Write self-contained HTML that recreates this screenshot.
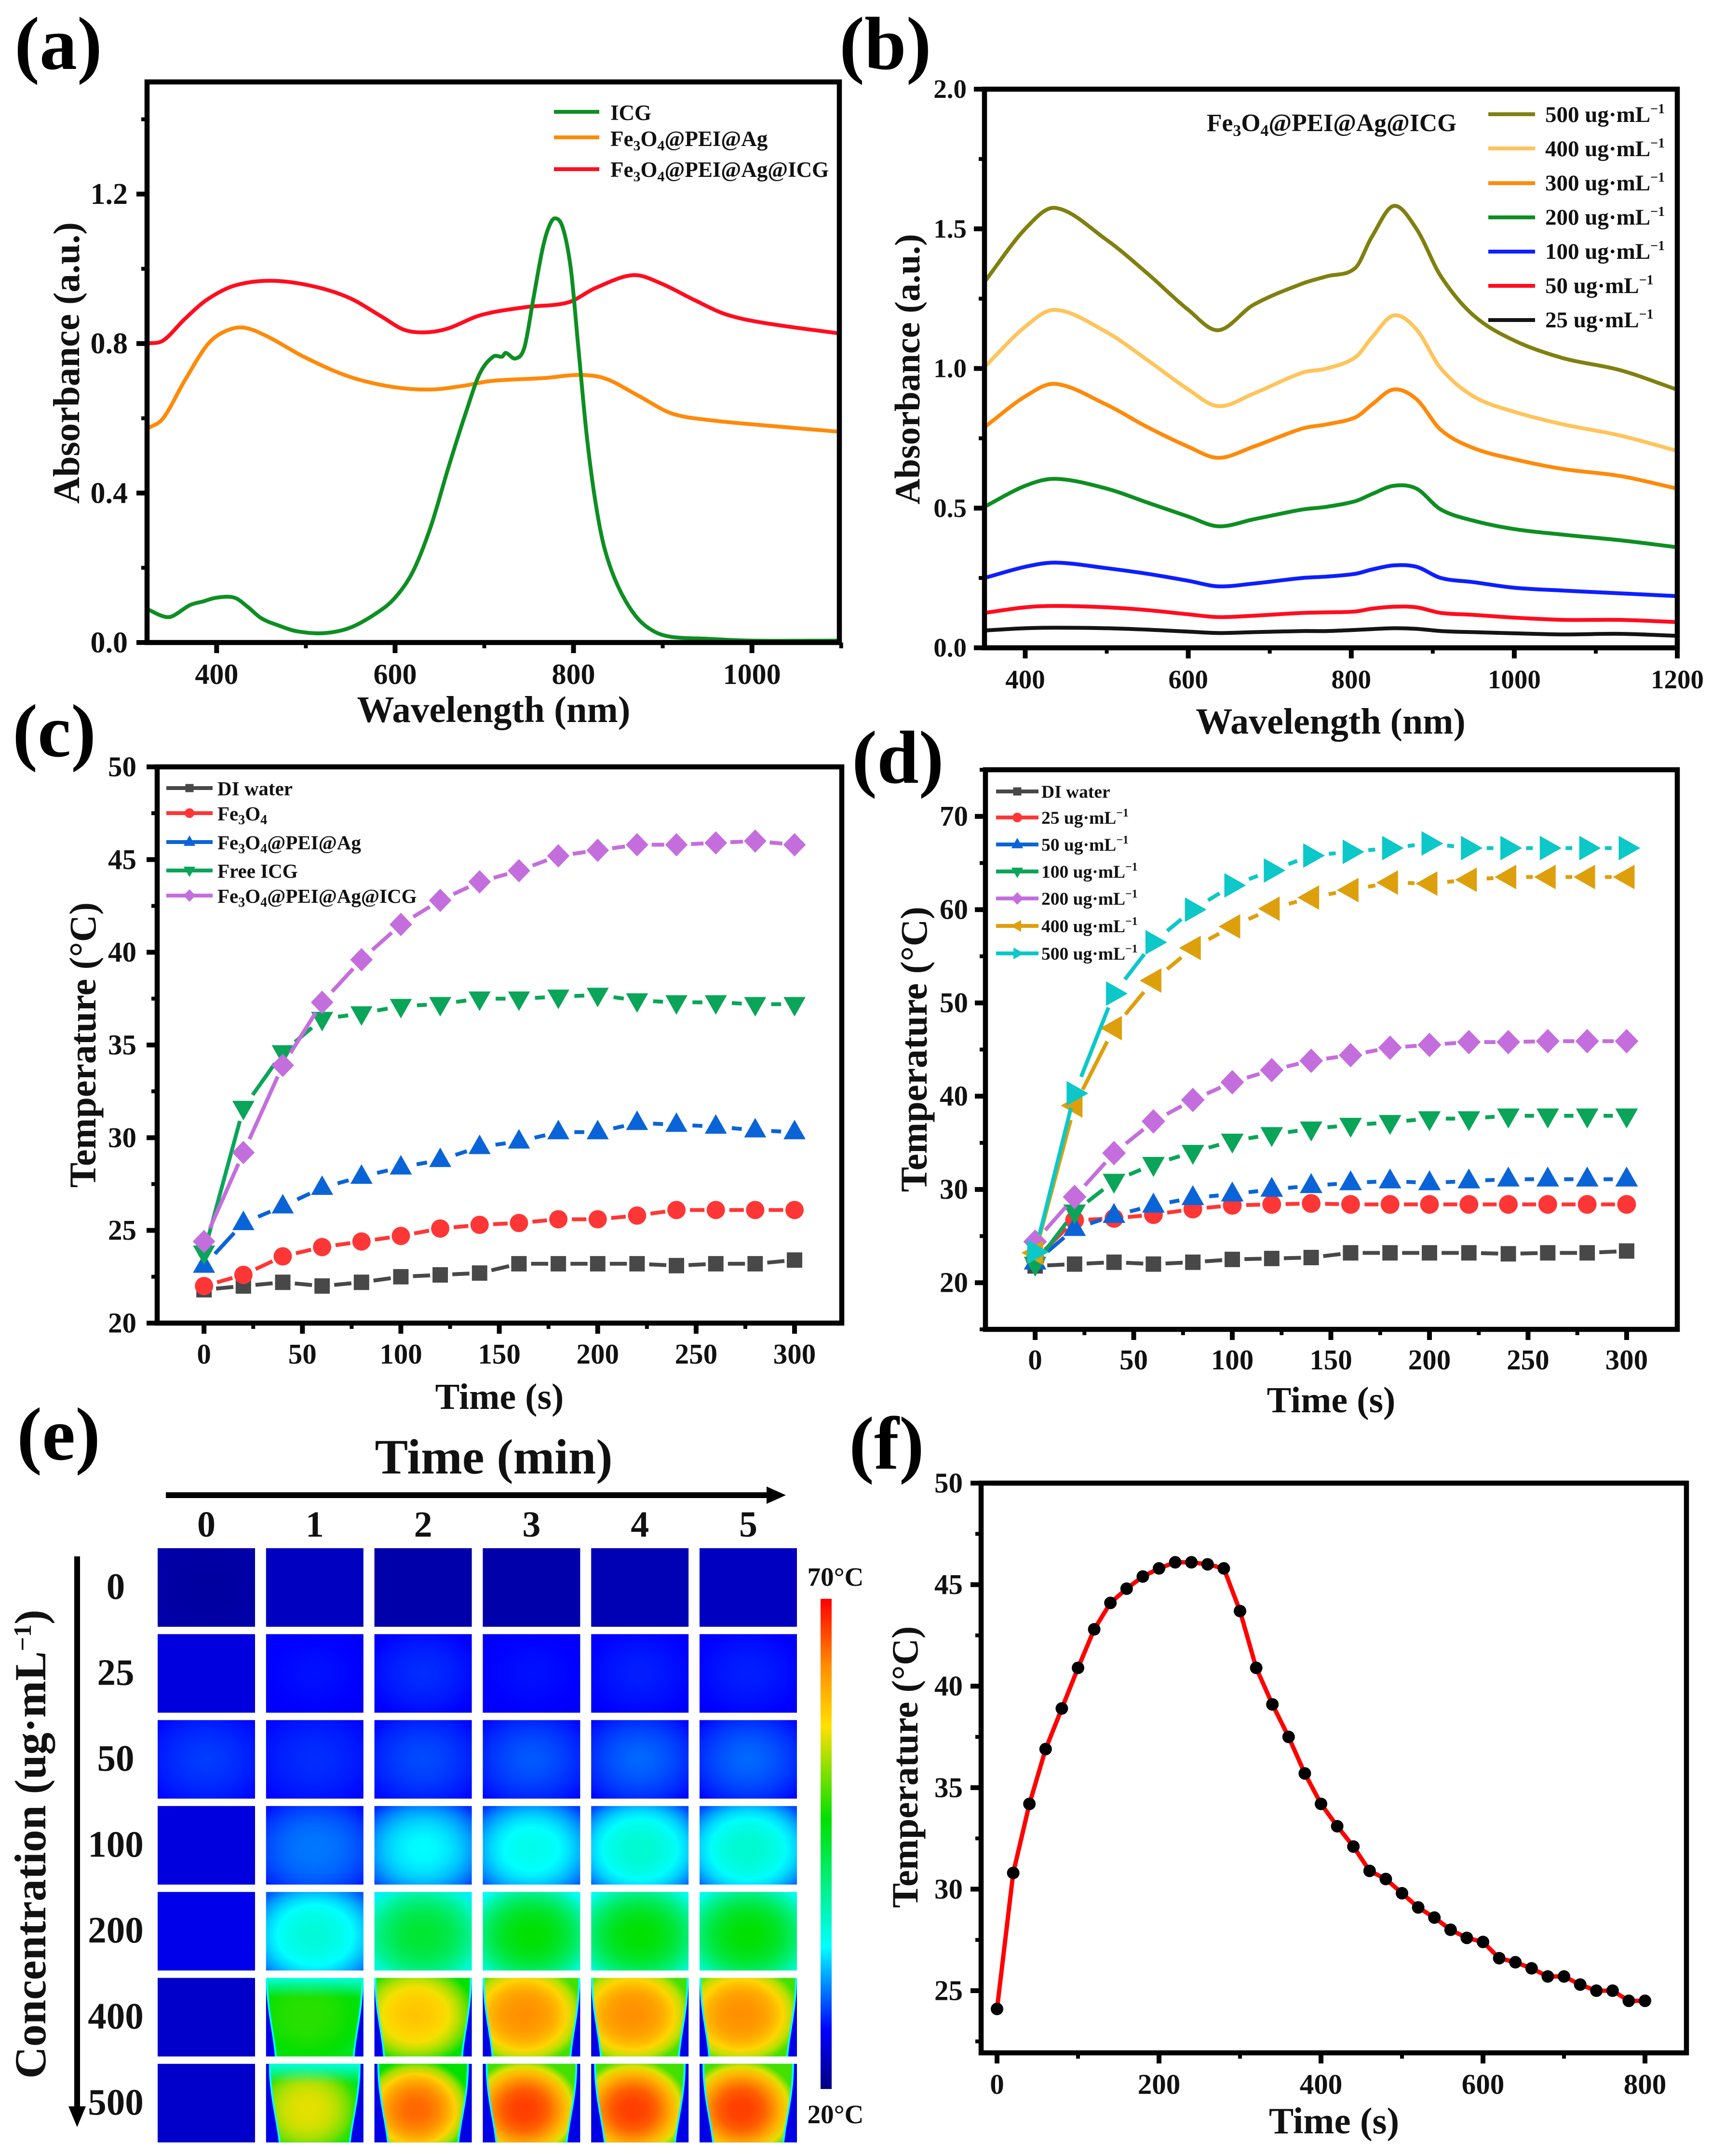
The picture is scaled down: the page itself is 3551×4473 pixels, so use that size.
<!DOCTYPE html>
<html lang="en">
<head>
<meta charset="utf-8">
<title>Fe3O4@PEI@Ag@ICG photothermal characterisation</title>
<style>
html,body{margin:0;padding:0;background:#fff;}
svg{display:block;}
text{font-family:"Liberation Serif",serif;font-weight:bold;fill:#111;}
.panel-tag{font-size:156px;fill:#000;}
.ax-title{font-size:77px;}
.lg-a{font-size:45px;}
.lg-b{font-size:47px;}
.lg-c{font-size:41px;}
.lg-d{font-size:37.5px;}
</style>
</head>
<body>
<svg id="figure" xmlns="http://www.w3.org/2000/svg" width="3551" height="4473" viewBox="0 0 3551 4473">
<defs id="defs"></defs>
<rect x="0" y="0" width="3551" height="4473" fill="#fff"/>

<!-- panel tags -->
<text class="panel-tag" x="30" y="143">(a)</text>
<text class="panel-tag" x="1741" y="143">(b)</text>
<text class="panel-tag" x="26" y="1569">(c)</text>
<text class="panel-tag" x="1767" y="1624">(d)</text>
<text class="panel-tag" x="35" y="3028">(e)</text>
<text class="panel-tag" x="1761" y="3047">(f)</text>

<g id="panel-a"></g>
<g id="panel-b"></g>
<g id="panel-c"></g>
<g id="panel-d"></g>
<g id="panel-e"></g>
<g id="panel-f"></g>

<!-- axis titles -->
<text class="ax-title" transform="translate(164,753) rotate(-90)" text-anchor="middle">Absorbance (a.u.)</text>
<text class="ax-title" x="1024" y="1498" text-anchor="middle">Wavelength (nm)</text>
<text class="ax-title" style="font-size:74px" transform="translate(1907,766) rotate(-90)" text-anchor="middle">Absorbance (a.u.)</text>
<text class="ax-title" style="font-size:76px" x="2760" y="1522" text-anchor="middle">Wavelength (nm)</text>
<text class="ax-title" style="font-size:78px" transform="translate(198,2168) rotate(-90)" text-anchor="middle">Temperature (°C)</text>
<text class="ax-title" style="font-size:76px" x="1036" y="2923" text-anchor="middle">Time (s)</text>
<text class="ax-title" style="font-size:78px" transform="translate(1922,2177) rotate(-90)" text-anchor="middle">Temperature (°C)</text>
<text class="ax-title" style="font-size:76px" x="2761" y="2930" text-anchor="middle">Time (s)</text>
<text class="ax-title" style="font-size:77px" transform="translate(1903,3666) rotate(-90)" text-anchor="middle">Temperature (°C)</text>
<text class="ax-title" style="font-size:77px" x="2767" y="4426" text-anchor="middle">Time (s)</text>

<!-- legend a -->
<g>
<text class="lg-a" x="1266" y="249">ICG</text>
<text class="lg-a" x="1266" y="303">Fe<tspan dy="9" font-size="30">3</tspan><tspan dy="-9">O</tspan><tspan dy="9" font-size="30">4</tspan><tspan dy="-9">@PEI@Ag</tspan></text>
<text class="lg-a" x="1266" y="367">Fe<tspan dy="9" font-size="30">3</tspan><tspan dy="-9">O</tspan><tspan dy="9" font-size="30">4</tspan><tspan dy="-9">@PEI@Ag@ICG</tspan></text>
</g>

<!-- legend b -->
<g>
<text style="font-size:51.5px" x="2503" y="272">Fe<tspan dy="10" font-size="34">3</tspan><tspan dy="-10">O</tspan><tspan dy="10" font-size="34">4</tspan><tspan dy="-10">@PEI@Ag@ICG</tspan></text>
<text class="lg-b" x="3205" y="253">500 ug·mL<tspan dy="-18" font-size="28">−1</tspan></text>
<text class="lg-b" x="3205" y="324">400 ug·mL<tspan dy="-18" font-size="28">−1</tspan></text>
<text class="lg-b" x="3205" y="395">300 ug·mL<tspan dy="-18" font-size="28">−1</tspan></text>
<text class="lg-b" x="3205" y="466">200 ug·mL<tspan dy="-18" font-size="28">−1</tspan></text>
<text class="lg-b" x="3205" y="537">100 ug·mL<tspan dy="-18" font-size="28">−1</tspan></text>
<text class="lg-b" x="3205" y="608">50 ug·mL<tspan dy="-18" font-size="28">−1</tspan></text>
<text class="lg-b" x="3205" y="679">25 ug·mL<tspan dy="-18" font-size="28">−1</tspan></text>
</g>

<!-- legend c -->
<g>
<text class="lg-c" x="451" y="1650">DI water</text>
<text class="lg-c" x="451" y="1702">Fe<tspan dy="8" font-size="28">3</tspan><tspan dy="-8">O</tspan><tspan dy="8" font-size="28">4</tspan></text>
<text class="lg-c" x="451" y="1762">Fe<tspan dy="8" font-size="28">3</tspan><tspan dy="-8">O</tspan><tspan dy="8" font-size="28">4</tspan><tspan dy="-8">@PEI@Ag</tspan></text>
<text class="lg-c" x="451" y="1821">Free ICG</text>
<text class="lg-c" x="451" y="1873">Fe<tspan dy="8" font-size="28">3</tspan><tspan dy="-8">O</tspan><tspan dy="8" font-size="28">4</tspan><tspan dy="-8">@PEI@Ag@ICG</tspan></text>
</g>

<!-- legend d -->
<g>
<text class="lg-d" x="2160" y="1655">DI water</text>
<text class="lg-d" x="2160" y="1709">25 ug·mL<tspan dy="-15" font-size="24">−1</tspan></text>
<text class="lg-d" x="2160" y="1765">50 ug·mL<tspan dy="-15" font-size="24">−1</tspan></text>
<text class="lg-d" x="2160" y="1821">100 ug·mL<tspan dy="-15" font-size="24">−1</tspan></text>
<text class="lg-d" x="2160" y="1877">200 ug·mL<tspan dy="-15" font-size="24">−1</tspan></text>
<text class="lg-d" x="2160" y="1934">400 ug·mL<tspan dy="-15" font-size="24">−1</tspan></text>
<text class="lg-d" x="2160" y="1991">500 ug·mL<tspan dy="-15" font-size="24">−1</tspan></text>
</g>

<!-- panel e annotations -->
<text style="font-size:103px" x="1024" y="3057" text-anchor="middle">Time (min)</text>
<text style="font-size:92px" transform="translate(94,3826) rotate(-90)" text-anchor="middle">Concentration (ug·mL<tspan dy="-30" font-size="52">−1</tspan><tspan dy="30">)</tspan></text>
<g>
<rect x="344" y="3096" width="1255" height="12" fill="#000"/>
<polygon points="1590,3084 1630,3102 1590,3120" fill="#000"/>
</g>
<g>
<rect x="154" y="3229" width="12" height="1150" fill="#000"/>
<polygon points="142,4370 178,4370 160,4413" fill="#000"/>
</g>
<text style="font-size:55px" x="1733" y="3290" text-anchor="middle">70°C</text>
<text style="font-size:55px" x="1733" y="4405" text-anchor="middle">20°C</text>
</svg>

<script>
/* ---------- panel (a) data ---------- */
const aIcgWavelength = [322,340,350,370,385,400,420,435,450,470,490,520,550,580,600,620,640,660,680,695,710,720,724,735,745,755,765,772,779,788,797,805,815,825,835,850,870,890,910,950,1000,1098];
const aIcgAbsorbance = [.09,.07,.07,.10,.11,.12,.12,.095,.065,.045,.03,.025,.04,.08,.12,.19,.31,.47,.62,.72,.765,.765,.775,.76,.79,.92,1.05,1.11,1.135,1.11,1.0,.8,.55,.37,.25,.15,.07,.03,.015,.01,.005,.005];
const aAgWavelength = [322,340,364,389,407,429,456,499,548,597,640,677,708,769,806,836,873,910,953,1014,1098];
const aAgAbsorbance = [.572,.60,.70,.795,.83,.843,.82,.763,.712,.684,.677,.687,.70,.708,.716,.706,.66,.613,.595,.581,.564];
const aAgIcgWavelength = [322,340,364,389,420,460,505,548,585,610,634,659,696,745,794,825,867,898,935,971,1014,1098];
const aAgIcgAbsorbance = [.80,.808,.865,.917,.955,.968,.955,.923,.872,.837,.83,.84,.876,.897,.91,.949,.983,.961,.917,.878,.855,.827];
const aXTickValues = [400,600,800,1000];
const aXTickLabels = ['400','600','800','1000'];
const aXMinorTicks = [500,700,900,1100];
const aYTickValues = [0,0.4,0.8,1.2];
const aYTickLabels = ['0.0','0.4','0.8','1.2'];
const aYMinorTicks = [0.2,0.6,1.0,1.4];

/* ---------- panel (b) data ---------- */
const bWavelength = [350,400,437,500,550,600,637,680,740,770,805,825,852,880,910,950,1000,1060,1130,1200];
const b500 = [1.31,1.50,1.575,1.46,1.34,1.21,1.137,1.228,1.304,1.33,1.36,1.47,1.582,1.50,1.33,1.19,1.10,1.037,.994,.924];
const b400 = [1.005,1.15,1.21,1.13,1.03,.925,.865,.91,.985,1.0,1.04,1.11,1.19,1.14,1.0,.9,.845,.80,.76,.705];
const b300 = [.79,.90,.945,.87,.79,.72,.68,.72,.785,.80,.825,.87,.925,.89,.78,.715,.675,.64,.615,.57];
const b200 = [.505,.58,.605,.57,.52,.47,.435,.46,.495,.505,.525,.55,.58,.57,.495,.455,.425,.405,.385,.36];
const b100 = [.25,.29,.305,.285,.265,.24,.22,.23,.25,.255,.265,.28,.295,.29,.25,.235,.215,.205,.195,.185];
const b50 = [.125,.145,.15,.145,.135,.12,.11,.115,.125,.127,.13,.14,.147,.145,.125,.118,.108,.10,.10,.092];
const b25 = [.062,.07,.072,.07,.065,.058,.053,.056,.06,.06,.064,.067,.07,.068,.06,.056,.052,.048,.05,.043];
const bXTickValues = [400,600,800,1000,1200];
const bXTickLabels = ['400','600','800','1000','1200'];
const bXMinorTicks = [500,700,900,1100];
const bYTickValues = [0,0.5,1,1.5,2];
const bYTickLabels = ['0.0','0.5','1.0','1.5','2.0'];
const bYMinorTicks = [0.25,0.75,1.25,1.75];

/* ---------- panels (c), (d) data ---------- */
const cTime = [0,20,40,60,80,100,120,140,160,180,200,220,240,260,280,300];
const cDiWater = [21.8,22.0,22.2,22.0,22.2,22.5,22.6,22.7,23.2,23.2,23.2,23.2,23.1,23.2,23.2,23.4];
const cFe3o4 = [22,22.6,23.6,24.1,24.4,24.7,25.1,25.3,25.4,25.6,25.6,25.8,26.1,26.1,26.1,26.1];
const cPeiAg = [23.1,25.4,26.3,27.3,27.9,28.4,28.8,29.5,29.8,30.3,30.3,30.8,30.7,30.6,30.4,30.3];
const cFreeIcg = [23.8,31.6,34.6,36.4,36.7,37.1,37.2,37.5,37.5,37.6,37.7,37.4,37.3,37.3,37.2,37.2];
const cPeiAgIcg = [24.4,29.2,33.9,37.3,39.6,41.5,42.8,43.8,44.4,45.2,45.5,45.8,45.8,45.9,46.0,45.8];
const cXTickValues = [0,50,100,150,200,250,300];
const cXTickLabels = ['0','50','100','150','200','250','300'];
const cXMinorTicks = [25,75,125,175,225,275];
const cYTickValues = [20,25,30,35,40,45,50];
const cYTickLabels = ['20','25','30','35','40','45','50'];
const cYMinorTicks = [22.5,27.5,32.5,37.5,42.5,47.5];

const dTime = [0,20,40,60,80,100,120,140,160,180,200,220,240,260,280,300];
const dDiWater = [21.8,22,22.2,22,22.2,22.5,22.6,22.7,23.2,23.2,23.2,23.2,23.1,23.2,23.2,23.4];
const d25 = [22.5,26.7,26.9,27.3,27.9,28.3,28.4,28.5,28.4,28.4,28.4,28.4,28.4,28.4,28.4,28.4];
const d50 = [22.2,25.8,27.2,28.3,29.1,29.5,30.0,30.4,30.7,30.9,30.7,30.9,31.1,31.1,31.1,31.1];
const d100 = [22.0,27.6,30.9,32.7,34,35.2,35.9,36.5,36.9,37.2,37.6,37.6,37.9,37.9,37.9,37.9];
const d200 = [24.4,29.2,33.9,37.3,39.6,41.5,42.8,43.8,44.4,45.2,45.5,45.8,45.8,45.9,45.9,45.9];
const d400 = [23.2,39,47.3,52.4,55.9,58.2,60.1,61.3,62.1,62.9,62.8,63.2,63.5,63.5,63.5,63.5];
const d500 = [23.3,40.3,51,56.5,60,62.6,64.2,65.8,66.2,66.6,67.1,66.6,66.6,66.6,66.6,66.6];
const dXTickValues = [0,50,100,150,200,250,300];
const dXTickLabels = ['0','50','100','150','200','250','300'];
const dXMinorTicks = [25,75,125,175,225,275];
const dYTickValues = [20,30,40,50,60,70];
const dYTickLabels = ['20','30','40','50','60','70'];
const dYMinorTicks = [15,25,35,45,55,65,75];

/* ---------- panel (e) data (°C) ---------- */
const heatRowLabels = ['0','25','50','100','200','400','500'];
const heatColLabels = ['0','1','2','3','4','5'];
const heatCoreTemps = [
  [21.5,23,22,22,22.5,23],
  [24.5,26.5,27.5,26.5,27,27],
  [28,27.5,28.5,29,29.5,29.5],
  [24.5,30,34.5,35.5,37,37],
  [25,36.5,45,47.5,47.5,47.5],
  [23.5,49,59,63,63,63],
  [23.5,56,65,67,67,67]
];
const heatEdgeTemps = [
  [22,23,22,22,22.5,23],
  [24.5,25.5,25.5,25.5,25.5,25.5],
  [26,26,26,26,26,26],
  [24.5,26.5,27.5,28,28.5,28.5],
  [25,29,34,34.5,35,35],
  [23.5,46,47.5,50,50,50],
  [23.5,46,47.5,50,50,50]
];
const colorbarT = [0,.12,.29,.55,.74,.86,1];
const colorbarColors = [[0,0,128],[0,0,255],[0,255,255],[0,224,0],[255,224,0],[255,144,0],[255,0,0]];

/* ---------- panel (f) data ---------- */
const fTime = [0,20,40,60,80,100,120,140,160,180,200,220,240,260,280,300,320,340,360,380,400,420,440,460,480,500,520,540,560,580,600,620,640,660,680,700,720,740,760,780,800];
const fTemperature = [24.1,30.8,34.2,36.9,38.9,40.9,42.8,44.1,44.8,45.4,45.8,46.1,46.1,46.0,45.8,43.7,40.9,39.1,37.5,35.7,34.2,33.1,32.1,30.9,30.5,29.8,29.1,28.6,28.0,27.6,27.4,26.6,26.4,26.1,25.7,25.7,25.3,25.0,25.0,24.5,24.5];
const fXTickValues = [0,200,400,600,800];
const fXTickLabels = ['0','200','400','600','800'];
const fXMinorTicks = [100,300,500,700];
const fYTickValues = [25,30,35,40,45,50];
const fYTickLabels = ['25','30','35','40','45','50'];
const fYMinorTicks = [22.5,27.5,32.5,37.5,42.5,47.5];

/* ---------- helpers ---------- */
const NS = 'http://www.w3.org/2000/svg';
function mk(tag, attrs, parent) {
  const el = document.createElementNS(NS, tag);
  for (const k in attrs) el.setAttribute(k, attrs[k]);
  if (parent) parent.appendChild(el);
  return el;
}
function linear(d0, d1, r0, r1) {
  return v => r0 + (v - d0) * (r1 - r0) / (d1 - d0);
}
function smoothPath(pts) {
  const n = pts.length;
  const slope = i => {
    const a = pts[Math.max(0, i - 1)], b = pts[Math.min(n - 1, i + 1)];
    return (b[1] - a[1]) / (b[0] - a[0]);
  };
  let d = 'M' + pts[0][0].toFixed(1) + ' ' + pts[0][1].toFixed(1);
  for (let i = 0; i < n - 1; i++) {
    const p1 = pts[i], p2 = pts[i + 1], h = (p2[0] - p1[0]) / 3;
    d += 'C' + (p1[0] + h).toFixed(1) + ' ' + (p1[1] + slope(i) * h).toFixed(1) + ' ' + (p2[0] - h).toFixed(1) + ' ' + (p2[1] - slope(i + 1) * h).toFixed(1) + ' ' + p2[0].toFixed(1) + ' ' + p2[1].toFixed(1);
  }
  return d;
}
function drawAxes(g, box, xs, ys, o) {
  const frame = mk('rect', {x: box.l, y: box.t, width: box.r - box.l, height: box.b - box.t, fill: 'none', stroke: '#000', 'stroke-width': 10.5}, g);
  
  
  o.xTicks.forEach((v, i) => {
    const x = xs(v);
    const tick = mk('line', {x1: x, x2: x, y1: box.b, y2: box.b + 22, stroke: '#000', 'stroke-width': 10}, g);
    
    
    const lab = mk('text', {x: x, y: o.xLabelY, 'text-anchor': 'middle', 'font-size': o.xFont}, g);
    lab.textContent = o.xLabels[i];
    
    
  });
  o.xMinor.forEach(v => {
    const x = xs(v);
    const tick = mk('line', {x1: x, x2: x, y1: box.b, y2: box.b + 12, stroke: '#000', 'stroke-width': 8}, g);
    
    
  });
  o.yTicks.forEach((v, i) => {
    const y = ys(v);
    const tick = mk('line', {x1: box.l, x2: box.l - 22, y1: y, y2: y, stroke: '#000', 'stroke-width': 10}, g);
    
    
    const lab = mk('text', {x: o.yLabelX, y: y + o.yFont * 0.33, 'text-anchor': 'end', 'font-size': o.yFont}, g);
    lab.textContent = o.yLabels[i];
    
    
  });
  o.yMinor.forEach(v => {
    const y = ys(v);
    const tick = mk('line', {x1: box.l, x2: box.l - 12, y1: y, y2: y, stroke: '#000', 'stroke-width': 8}, g);
    
    
  });
}
function drawSpectrum(g, xsArr, ysArr, xs, ys, color) {
  const pts = xsArr.map((v, i) => [xs(v), ys(ysArr[i])]);
  const p = mk('path', {d: smoothPath(pts), fill: 'none', stroke: color, 'stroke-width': 8, 'stroke-linejoin': 'round', 'stroke-linecap': 'butt'}, g);
  
  
}
function drawMarker(g, shape, x, y, s, color) {
  let el;
  const attrs = {fill: color};
  if (shape === 'circle') { attrs.cx = x; attrs.cy = y; attrs.r = s * 0.5; el = mk('circle', attrs, g); }
  else {
    let pts;
    const a = s * .57, b = s * .33, c = s * .51;
    if (shape === 'square') pts = [[-s*.47,-s*.47],[s*.47,-s*.47],[s*.47,s*.47],[-s*.47,s*.47]];
    if (shape === 'up') pts = [[0,-a],[c,b],[-c,b]];
    if (shape === 'down') pts = [[0,a],[c,-b],[-c,-b]];
    if (shape === 'left') pts = [[-a,0],[b,-c],[b,c]];
    if (shape === 'right') pts = [[a,0],[-b,-c],[-b,c]];
    if (shape === 'diamond') pts = [[0,-s*.59],[s*.57,0],[0,s*.59],[-s*.57,0]];
    attrs.points = pts.map(p => (x + p[0]).toFixed(1) + ',' + (y + p[1]).toFixed(1)).join(' ');
    el = mk('polygon', attrs, g);
  }
  return el;
}
function drawScatterLine(g, time, vals, xs, ys, color, shape, size) {
  const gapStart = size * .74, gapEnd = size * .62;
  for (let i = 0; i < time.length - 1; i++) {
    const x1 = xs(time[i]), y1 = ys(vals[i]), x2 = xs(time[i + 1]), y2 = ys(vals[i + 1]);
    const len = Math.hypot(x2 - x1, y2 - y1);
    if (len <= gapStart + gapEnd) continue;
    const ux = (x2 - x1) / len, uy = (y2 - y1) / len;
    const seg = mk('line', {x1: x1 + ux * gapStart, y1: y1 + uy * gapStart, x2: x2 - ux * gapEnd, y2: y2 - uy * gapEnd, stroke: color, 'stroke-width': 8}, g);
    
    
  }
  time.forEach((t, i) => {
    const m = drawMarker(g, shape, xs(t), ys(vals[i]), size, color);
    
    
  });
}
function legendSwatch(g, x1, x2, y, color, shape, size) {
  const line = mk('line', {x1: x1, x2: x2, y1: y, y2: y, stroke: color, 'stroke-width': 8}, g);
  
  
  if (shape) {
    const m = drawMarker(g, shape, (x1 + x2) / 2, y, size, color);
    
    
  }
}
function tempColor(T) {
  const t = Math.min(1, Math.max(0, (T - 20) / 50));
  let i = 0;
  while (i < colorbarT.length - 2 && t > colorbarT[i + 1]) i++;
  const f = (t - colorbarT[i]) / (colorbarT[i + 1] - colorbarT[i]);
  const a = colorbarColors[i], b = colorbarColors[i + 1];
  return 'rgb(' + a.map((c, k) => Math.round(c + (b[k] - c) * f)).join(',') + ')';
}

/* ---------- panel (a) ---------- */
(function () {
  const g = document.getElementById('panel-a');
  const box = {l: 305, r: 1741, t: 170, b: 1333};
  const xs = linear(322, 1098, box.l, box.r);
  const ys = linear(0, 1.5, box.b, box.t);
  drawSpectrum(g, aAgIcgWavelength, aAgIcgAbsorbance, xs, ys, '#ff0d1f');
  drawSpectrum(g, aAgWavelength, aAgAbsorbance, xs, ys, '#ff8a0a');
  drawSpectrum(g, aIcgWavelength, aIcgAbsorbance, xs, ys, '#0d8f22');
  drawAxes(g, box, xs, ys, {xTicks: aXTickValues, xLabels: aXTickLabels, xMinor: aXMinorTicks, yTicks: aYTickValues, yLabels: aYTickLabels, yMinor: aYMinorTicks, xLabelY: 1419, yLabelX: 265, xFont: 60, yFont: 62});
  legendSwatch(g, 1149, 1243, 232, '#0d8f22');
  legendSwatch(g, 1149, 1243, 285, '#ff8a0a');
  legendSwatch(g, 1149, 1243, 351, '#ff0d1f');
})();

/* ---------- panel (b) ---------- */
(function () {
  const g = document.getElementById('panel-b');
  const box = {l: 2042, r: 3479, t: 185, b: 1344};
  const xs = linear(350, 1200, box.l, box.r);
  const ys = linear(0, 2, box.b, box.t);
  drawSpectrum(g, bWavelength, b25, xs, ys, '#141414');
  drawSpectrum(g, bWavelength, b50, xs, ys, '#ff0d1f');
  drawSpectrum(g, bWavelength, b100, xs, ys, '#0d1fff');
  drawSpectrum(g, bWavelength, b200, xs, ys, '#0d8f22');
  drawSpectrum(g, bWavelength, b300, xs, ys, '#ff8a0a');
  drawSpectrum(g, bWavelength, b400, xs, ys, '#ffc45c');
  drawSpectrum(g, bWavelength, b500, xs, ys, '#808010');
  drawAxes(g, box, xs, ys, {xTicks: bXTickValues, xLabels: bXTickLabels, xMinor: bXMinorTicks, yTicks: bYTickValues, yLabels: bYTickLabels, yMinor: bYMinorTicks, xLabelY: 1428, yLabelX: 2005, xFont: 55, yFont: 55});
  legendSwatch(g, 3087, 3184, 237, '#808010');
  legendSwatch(g, 3087, 3184, 308, '#ffc45c');
  legendSwatch(g, 3087, 3184, 380, '#ff8a0a');
  legendSwatch(g, 3087, 3184, 451, '#0d8f22');
  legendSwatch(g, 3087, 3184, 522, '#0d1fff');
  legendSwatch(g, 3087, 3184, 593, '#ff0d1f');
  legendSwatch(g, 3087, 3184, 664, '#141414');
})();

/* ---------- panel (c) ---------- */
(function () {
  const g = document.getElementById('panel-c');
  const box = {l: 326, r: 1746, t: 1591, b: 2745};
  const xs = linear(-23.8, 324, box.l, box.r);
  const ys = linear(20, 50, box.b, box.t);
  drawAxes(g, box, xs, ys, {xTicks: cXTickValues, xLabels: cXTickLabels, xMinor: cXMinorTicks, yTicks: cYTickValues, yLabels: cYTickLabels, yMinor: cYMinorTicks, xLabelY: 2829, yLabelX: 283, xFont: 59, yFont: 59});
  drawScatterLine(g, cTime, cDiWater, xs, ys, '#484848', 'square', 34);
  drawScatterLine(g, cTime, cFe3o4, xs, ys, '#ff3636', 'circle', 38);
  drawScatterLine(g, cTime, cPeiAg, xs, ys, '#0a64d8', 'up', 45);
  drawScatterLine(g, cTime, cFreeIcg, xs, ys, '#0aa558', 'down', 45);
  drawScatterLine(g, cTime, cPeiAgIcg, xs, ys, '#c46edd', 'diamond', 41);
  legendSwatch(g, 345, 441, 1635, '#484848', 'square', 18);
  legendSwatch(g, 345, 441, 1687, '#ff3636', 'circle', 20);
  legendSwatch(g, 345, 441, 1747, '#0a64d8', 'up', 24);
  legendSwatch(g, 345, 441, 1806, '#0aa558', 'down', 24);
  legendSwatch(g, 345, 441, 1858, '#c46edd', 'diamond', 22);
})();

/* ---------- panel (d) ---------- */
(function () {
  const g = document.getElementById('panel-d');
  const box = {l: 2044, r: 3479, t: 1597, b: 2758};
  const xs = linear(-25.2, 325.7, box.l, box.r);
  const ys = linear(15, 75, box.b, box.t);
  drawAxes(g, box, xs, ys, {xTicks: dXTickValues, xLabels: dXTickLabels, xMinor: dXMinorTicks, yTicks: dYTickValues, yLabels: dYTickLabels, yMinor: dYMinorTicks, xLabelY: 2841, yLabelX: 2008, xFont: 59, yFont: 59});
  drawScatterLine(g, dTime, dDiWater, xs, ys, '#484848', 'square', 34);
  drawScatterLine(g, dTime, d25, xs, ys, '#ff3636', 'circle', 39);
  drawScatterLine(g, dTime, d50, xs, ys, '#0a64d8', 'up', 46);
  drawScatterLine(g, dTime, d100, xs, ys, '#0aa558', 'down', 46);
  drawScatterLine(g, dTime, d200, xs, ys, '#c46edd', 'diamond', 43);
  drawScatterLine(g, dTime, d400, xs, ys, '#dda00c', 'left', 50);
  drawScatterLine(g, dTime, d500, xs, ys, '#0cc8c8', 'right', 50);
  legendSwatch(g, 2066, 2154, 1642, '#484848', 'square', 18);
  legendSwatch(g, 2066, 2154, 1696, '#ff3636', 'circle', 20);
  legendSwatch(g, 2066, 2154, 1752, '#0a64d8', 'up', 24);
  legendSwatch(g, 2066, 2154, 1808, '#0aa558', 'down', 24);
  legendSwatch(g, 2066, 2154, 1864, '#c46edd', 'diamond', 22);
  legendSwatch(g, 2066, 2154, 1921, '#dda00c', 'left', 24);
  legendSwatch(g, 2066, 2154, 1978, '#0cc8c8', 'right', 24);
})();

/* ---------- panel (e) ---------- */
(function () {
  const g = document.getElementById('panel-e');
  const defs = document.getElementById('defs');
  const x0 = 327, y0 = 3212, dx = 224.8, dy = 178.3, w = 202, h = 163;
  const xBand = i => x0 + i * dx;
  const yBand = j => y0 + j * dy;
  const fade = mk('linearGradient', {id: 'cell-top-fade', x1: 0, y1: 0, x2: 0, y2: 1}, defs);
  mk('stop', {offset: 0, 'stop-color': '#00ffe0', 'stop-opacity': 1}, fade);
  mk('stop', {offset: 1, 'stop-color': '#00ffe0', 'stop-opacity': 0}, fade);
  heatColLabels.forEach((c, i) => {
    const t = mk('text', {x: xBand(i) + w / 2, y: 3188, 'text-anchor': 'middle', 'font-size': 76}, g);
    t.textContent = c;
    
    
  });
  heatRowLabels.forEach((r, j) => {
    const t = mk('text', {x: 240, y: yBand(j) + w * 0.52, 'text-anchor': 'middle', 'font-size': 77}, g);
    t.textContent = r;
    
    
    heatColLabels.forEach((c, i) => {
      const core = heatCoreTemps[j][i], edge = heatEdgeTemps[j][i];
      const x = xBand(i), y = yBand(j);
      const id = 'cell-grad-' + j + '-' + i;
      const hot = edge >= 45;
      const warm = core >= 30;
      const cy = hot ? (j === 5 ? .47 : .58) : (warm ? .55 : .5);
      const cx = hot ? .42 : .5;
      const grad = mk('radialGradient', {id: id, cx: cx, cy: cy, r: hot ? .64 : .7}, defs);
      const power = hot ? 2.6 : (warm ? 2.2 : 1.6);
      const stopsAt = [0, .2, .4, .55, .7, .85, 1];
      stopsAt.forEach(s => {
        const T = core + (edge - core) * Math.pow(s, power);
        mk('stop', {offset: s, 'stop-color': tempColor(T)}, grad);
      });
      const cell = mk('g', {}, g);
      
      
      if (hot) {
        const inset = j === 5 ? .09 : .13;
        const top = j === 5 ? 0 : .03;
        const shape = (k) => {
          const ti = top * w + k, bi = inset * w + k;
          return 'M' + (x + ti) + ' ' + y + 'L' + (x + w - ti) + ' ' + y + 'C' + (x + w - ti) + ' ' + (y + h * .4) + ' ' + (x + w - bi * .8) + ' ' + (y + h * .7) + ' ' + (x + w - bi) + ' ' + (y + h) + 'L' + (x + bi) + ' ' + (y + h) + 'C' + (x + bi * .8) + ' ' + (y + h * .7) + ' ' + (x + ti) + ' ' + (y + h * .4) + ' ' + (x + ti) + ' ' + y + 'Z';
        };
        mk('rect', {x: x, y: y, width: w, height: h, fill: '#0000e6'}, cell);
        mk('path', {d: shape(0), fill: '#00ffff'}, cell);
        mk('path', {d: shape(4), fill: 'url(#' + id + ')'}, cell);
        if (edge < 47) {
          mk('rect', {x: x + top * w, y: y, width: w - 2 * top * w, height: h * .25, fill: 'url(#cell-top-fade)'}, cell);
        }
      } else {
        mk('rect', {x: x, y: y, width: w, height: h, fill: 'url(#' + id + ')'}, cell);
      }
    });
  });
  const cbGrad = mk('linearGradient', {id: 'cb-grad', x1: 0, y1: 1, x2: 0, y2: 0}, defs);
  colorbarT.forEach((t) => {
    mk('stop', {offset: t, 'stop-color': tempColor(20 + t * 50)}, cbGrad);
  });
  const bar = mk('rect', {x: 1702, y: 3317, width: 23, height: 1017, fill: 'url(#cb-grad)'}, g);
  
  
})();

/* ---------- panel (f) ---------- */
(function () {
  const g = document.getElementById('panel-f');
  const box = {l: 2035, r: 3498, t: 3077, b: 4259};
  const xs = linear(0, 800, 2068, 3412);
  const ys = linear(25, 50, 4130, 3077);
  drawAxes(g, box, xs, ys, {xTicks: fXTickValues, xLabels: fXTickLabels, xMinor: fXMinorTicks, yTicks: fYTickValues, yLabels: fYTickLabels, yMinor: fYMinorTicks, xLabelY: 4344, yLabelX: 1997, xFont: 59, yFont: 59});
  const pts = fTime.map((t, i) => (i ? 'L' : 'M') + xs(t).toFixed(1) + ' ' + ys(fTemperature[i]).toFixed(1)).join('');
  const line = mk('path', {d: pts, fill: 'none', stroke: '#ff0000', 'stroke-width': 9, 'stroke-linejoin': 'round'}, g);
  
  
  fTime.forEach((t, i) => {
    const m = mk('circle', {cx: xs(t), cy: ys(fTemperature[i]), r: 13, fill: '#000'}, g);
    
    
  });
})();
</script>
</body>
</html>
